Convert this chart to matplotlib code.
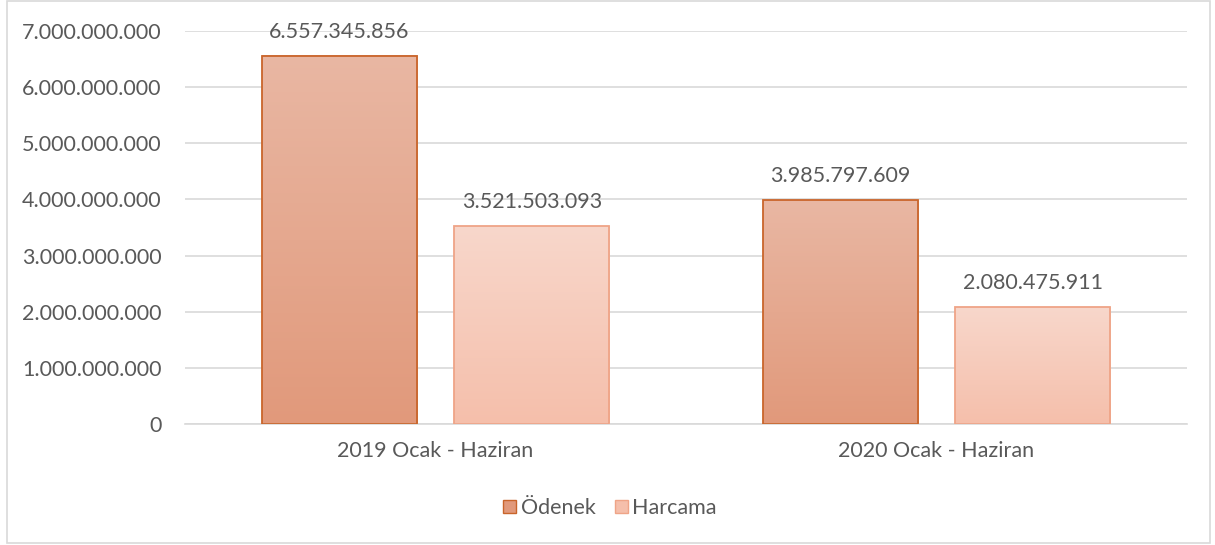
import numpy as np
import matplotlib.pyplot as plt
from matplotlib.patches import Rectangle, Patch
from matplotlib.colors import LinearSegmentedColormap

categories = ["2019 Ocak - Haziran", "2020 Ocak - Haziran"]
odenek = [6557345856, 3985797609]
harcama = [3521503093, 2080475911]
series_names = ["Ödenek", "Harcama"]

def fmt(v):
    return f"{v:,.0f}".replace(",", ".")

plt.rcParams['font.family'] = ['Lato', 'DejaVu Sans']
txt = '#595959'
fs = 15.5

fig = plt.figure(figsize=(12.15, 5.45), dpi=100)
ax = fig.add_axes([0.1523, 0.222, 0.8247, 0.721])

styles = [
    dict(top='#E9B7A3', bot='#E1997B', edge='#C9652B'),
    dict(top='#F8D7CB', bot='#F5BFAB', edge='#EFA487'),
]
w = 0.31
offs = [-0.192, 0.192]
x = np.arange(len(categories))

for s, (vals, st) in enumerate(zip([odenek, harcama], styles)):
    cmap = LinearSegmentedColormap.from_list('g', [st['bot'], st['top']])
    grad = np.linspace(0, 1, 256).reshape(-1, 1)
    for i, v in enumerate(vals):
        x0 = x[i] + offs[s] - w / 2
        ax.imshow(grad, cmap=cmap, origin='lower', aspect='auto',
                  extent=[x0, x0 + w, 0, v], zorder=2)
        ax.add_patch(Rectangle((x0, 0), w, v, fill=False, edgecolor=st['edge'],
                               linewidth=1.3, zorder=3))
        ax.text(x[i] + offs[s], v + 250e6, fmt(v), ha='center', va='bottom',
                fontsize=fs, color=txt)

ax.set_xlim(-0.5, 1.5)
ax.set_ylim(0, 7e9)
yt = np.arange(0, 7.01e9, 1e9)
ax.set_yticks(yt)
ax.set_yticklabels([fmt(v) for v in yt], fontsize=fs, color=txt)
ax.set_xticks(x)
ax.set_xticklabels(categories, fontsize=fs, color=txt)
ax.tick_params(axis='y', length=0, pad=17)
ax.tick_params(axis='x', length=0, pad=12)
ax.grid(axis='y', color='#D9D9D9', linewidth=1.2, zorder=0)
ax.set_axisbelow(True)
for sp in ['top', 'right', 'left']:
    ax.spines[sp].set_visible(False)
ax.spines['bottom'].set_color('#D9D9D9')
ax.spines['bottom'].set_linewidth(1.2)

handles = [Patch(facecolor=st['bot'], edgecolor=st['edge'], label=n)
           for st, n in zip(styles, series_names)]
fig.legend(handles=handles, loc='center', bbox_to_anchor=(0.502, 0.068), ncol=2,
           frameon=False, fontsize=fs, handlelength=0.6, handleheight=0.6,
           handletextpad=0.2, columnspacing=0.9, labelcolor=txt)

fig.add_artist(Rectangle((0.006, 0.004), 0.99, 0.995, transform=fig.transFigure,
                         fill=False, edgecolor='#D9D9D9', linewidth=1.2))

fig.savefig('out.png', dpi=100)
